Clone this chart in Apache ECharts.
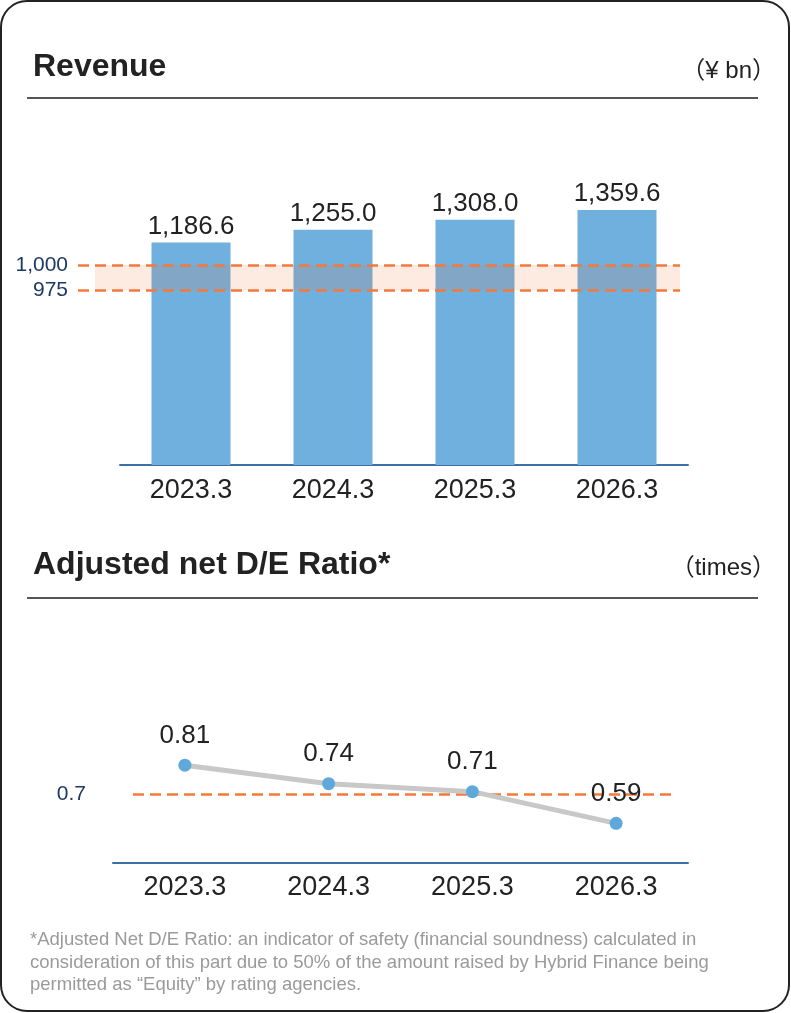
<!DOCTYPE html>
<html>
<head>
<meta charset="utf-8">
<title>Revenue and Adjusted net D/E Ratio</title>
<script src="https://cdn.jsdelivr.net/npm/echarts@6/dist/echarts.min.js"></script>
<style>
  html, body { margin: 0; padding: 0; background: #ffffff; }
  #chart { width: 791px; height: 1013px; }
</style>
</head>
<body>
<div id="chart"></div>
<script>
// Fiscal years (March year-end)
const categories = ['2023.3', '2024.3', '2025.3', '2026.3'];

// Revenue, ¥ bn
const revenue = [1186.6, 1255.0, 1308.0, 1359.6];
// Target revenue band, ¥ bn (lower, upper)
const revenueBand = [975, 1000];

// Adjusted net D/E ratio, times
const deRatio = [0.81, 0.74, 0.71, 0.59];
// D/E guideline, times
const deGuideline = 0.7;

// Headings, units and footnote
const revenueTitle = 'Revenue';
const revenueUnit = '（¥ bn）';
const deTitle = 'Adjusted net D/E Ratio*';
const deUnit = '（times）';
const footnoteLines = [
  '*Adjusted Net D/E Ratio: an indicator of safety (financial soundness) calculated in',
  'consideration of this part due to 50% of the amount raised by Hybrid Finance being',
  'permitted as \u201cEquity\u201d by rating agencies.'
];

const FONT = '"Liberation Sans", Arial, "Noto Sans CJK JP", sans-serif';
const INK = '#222222';
const NAVY = '#1e3a63';
const ORANGE = '#f37a3b';
const BAR_BLUE = '#6fb0de';
const DOT_BLUE = '#5fa8dc';
const AXIS_BLUE = '#3b70a6';
const RULE = '#555555';
const DASH = [11, 6];

const fmtThousands = (v, digits) =>
  Number(v).toLocaleString('en-US', { minimumFractionDigits: digits, maximumFractionDigits: digits });

const chart = echarts.init(document.getElementById('chart'), null, { renderer: 'canvas' });

const option = {
  animation: false,
  backgroundColor: '#ffffff',
  textStyle: { fontFamily: FONT },
  graphic: [
    // card outline
    {
      type: 'rect', silent: true, z: 0,
      shape: { x: 1, y: 1, width: 788, height: 1010, r: 26 },
      style: { fill: 'none', stroke: '#222222', lineWidth: 2 }
    },
    // section headings
    {
      type: 'text', x: 33, y: 67, silent: true,
      style: { text: revenueTitle, font: 'bold 32px ' + FONT, fill: INK, align: 'left', verticalAlign: 'middle' }
    },
    {
      type: 'text', x: 776, y: 71, silent: true,
      style: { text: revenueUnit, font: '24px ' + FONT, fill: INK, align: 'right', verticalAlign: 'middle' }
    },
    {
      type: 'line', silent: true,
      shape: { x1: 27, y1: 98, x2: 758, y2: 98 },
      style: { stroke: RULE, lineWidth: 2 }
    },
    {
      type: 'text', x: 33, y: 565, silent: true,
      style: { text: deTitle, font: 'bold 32px ' + FONT, fill: INK, align: 'left', verticalAlign: 'middle' }
    },
    {
      type: 'text', x: 776, y: 568, silent: true,
      style: { text: deUnit, font: '24px ' + FONT, fill: INK, align: 'right', verticalAlign: 'middle' }
    },
    {
      type: 'line', silent: true,
      shape: { x1: 27, y1: 598, x2: 758, y2: 598 },
      style: { stroke: RULE, lineWidth: 2 }
    },
    // footnote
    {
      type: 'text', x: 30, y: 929, silent: true,
      style: {
        text: footnoteLines.join('\n'),
        font: '18.5px ' + FONT, fill: '#9a9a9a', lineHeight: 22.5,
        align: 'left', verticalAlign: 'top'
      }
    }
  ],
  grid: [
    { left: 120, width: 568, top: 165, height: 300, containLabel: false },
    { left: 113, width: 575, top: 715, height: 148, containLabel: false }
  ],
  xAxis: [
    {
      type: 'category', gridIndex: 0, data: categories,
      axisLine: { lineStyle: { color: AXIS_BLUE, width: 2 } },
      axisTick: { show: false },
      axisLabel: { color: INK, fontSize: 27, margin: 12, fontFamily: FONT }
    },
    {
      type: 'category', gridIndex: 1, data: categories,
      axisLine: { lineStyle: { color: AXIS_BLUE, width: 2 } },
      axisTick: { show: false },
      axisLabel: { color: INK, fontSize: 27, margin: 11, fontFamily: FONT }
    }
  ],
  yAxis: [
    // revenue bars
    { type: 'value', gridIndex: 0, min: 0, max: 1600, show: false },
    // revenue band scale
    {
      type: 'value', gridIndex: 0, position: 'left', min: 800, max: 1100, interval: 25,
      axisLine: { show: false }, axisTick: { show: false }, splitLine: { show: false },
      axisLabel: {
        customValues: revenueBand,
        formatter: v => fmtThousands(v, 0),
        color: NAVY, fontSize: 21, margin: 52, fontFamily: FONT
      }
    },
    // D/E ratio
    {
      type: 'value', gridIndex: 1, position: 'left', min: 0.44, max: 1.0,
      axisLine: { show: false }, axisTick: { show: false }, splitLine: { show: false },
      axisLabel: {
        customValues: [deGuideline],
        formatter: v => String(v),
        color: NAVY, fontSize: 21, margin: 27, fontFamily: FONT
      }
    }
  ],
  series: [
    {
      name: 'Revenue', type: 'bar', xAxisIndex: 0, yAxisIndex: 0,
      data: revenue, barWidth: 79, z: 2,
      itemStyle: { color: BAR_BLUE },
      label: {
        show: true, position: 'top', distance: 3,
        color: INK, fontSize: 26, fontFamily: FONT,
        formatter: p => fmtThousands(p.value, 1)
      }
    },
    {
      name: 'Revenue band', type: 'line', xAxisIndex: 0, yAxisIndex: 1,
      data: [], z: 5, silent: true,
      markArea: {
        silent: true, z: 5,
        itemStyle: { color: 'rgba(244,122,58,0.15)' },
        data: [[{ x: 95, yAxis: revenueBand[1] }, { x: 680, yAxis: revenueBand[0] }]]
      },
      markLine: {
        silent: true, z: 6, symbol: ['none', 'none'],
        label: { show: false },
        lineStyle: { color: ORANGE, width: 2.5, type: DASH },
        data: revenueBand.map(v => [{ x: 78, yAxis: v }, { x: 680, yAxis: v }])
      }
    },
    {
      name: 'Adjusted net D/E Ratio', type: 'line', xAxisIndex: 1, yAxisIndex: 2,
      data: deRatio, z: 3,
      symbol: 'circle', symbolSize: 13,
      itemStyle: { color: DOT_BLUE },
      lineStyle: { color: '#c8c8c8', width: 5 },
      label: {
        show: true, position: 'top', distance: 10,
        color: INK, fontSize: 26, fontFamily: FONT,
        formatter: p => p.value.toFixed(2)
      },
      markLine: {
        silent: true, z: 2, symbol: ['none', 'none'],
        label: { show: false },
        lineStyle: { color: ORANGE, width: 2.5, type: DASH },
        data: [[{ x: 133, yAxis: deGuideline }, { x: 677, yAxis: deGuideline }]]
      }
    }
  ]
};

chart.setOption(option);
</script>
</body>
</html>
